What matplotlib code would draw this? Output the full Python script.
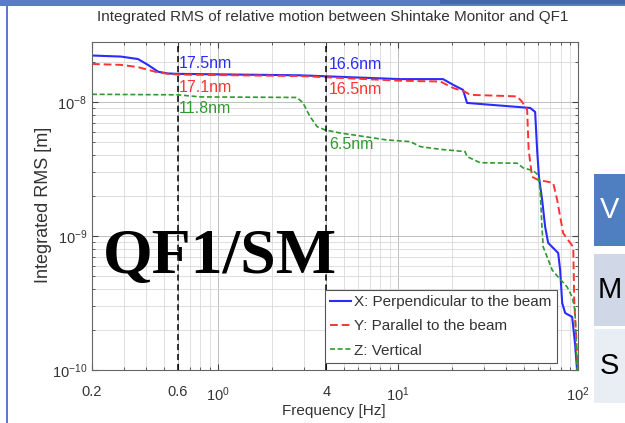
import matplotlib
matplotlib.use("Agg")
import matplotlib.pyplot as plt
from matplotlib.patches import Rectangle
from matplotlib.ticker import LogLocator, NullFormatter

# === Data (frequency [Hz], integrated RMS [m]) ===
freq_x = [0.2, 0.289, 0.360, 0.409, 0.466, 0.529, 0.6, 2.86, 10.3, 17.8, 20.3, 23.0, 24.2,
          54.3, 57.8, 59.3, 60.7, 63.2, 65.7, 68.3, 71.9, 77.6, 79.6, 81.7, 84.9, 92.8, 96.2, 98.8]
rms_x = [2.22e-8, 2.18e-8, 2.09e-8, 1.89e-8, 1.68e-8, 1.63e-8, 1.62e-8, 1.58e-8, 1.48e-8, 1.48e-8,
         1.34e-8, 1.23e-8, 9.83e-9, 9.02e-9, 8.42e-9, 4.38e-9, 2.76e-9, 1.86e-9, 1.17e-9, 8.87e-10,
         8.28e-10, 7.47e-10, 5.57e-10, 3.16e-10, 2.66e-10, 2.49e-10, 1.59e-10, 1.0e-10]

freq_y = [0.2, 0.289, 0.360, 0.448, 0.529, 0.6, 2.86, 10.3, 17.2, 20.3, 23.6, 25.2, 45.9, 49.0,
          52.2, 53.2, 55.6, 60.1, 72.8, 76.6, 82.7, 90.5, 94.1, 95.3, 96.5, 100]
rms_y = [1.92e-8, 1.89e-8, 1.82e-8, 1.68e-8, 1.62e-8, 1.60e-8, 1.56e-8, 1.44e-8, 1.42e-8, 1.27e-8,
         1.19e-8, 1.13e-8, 1.10e-8, 1.0e-8, 8.72e-9, 4.38e-9, 2.76e-9, 2.62e-9, 2.49e-9, 1.86e-9,
         1.05e-9, 8.87e-10, 8.28e-10, 3.33e-10, 2.36e-10, 1.0e-10]

freq_z = [0.2, 0.6, 0.8, 2.75, 2.97, 3.25, 3.56, 3.94, 4.77, 7.28, 8.71, 11.7, 13.3, 17.2, 23.6,
          24.2, 28.6, 45.9, 49.6, 56.4, 60.1, 61.6, 63.2, 64.1, 67.4, 71.9, 77.6, 87.1, 92.8, 96.2, 98.8]
rms_z = [1.14e-8, 1.13e-8, 1.09e-8, 1.08e-8, 9.83e-9, 7.77e-9, 6.54e-9, 6.18e-9, 5.87e-9, 5.39e-9,
         5.2e-9, 5.06e-9, 4.64e-9, 4.43e-9, 4.26e-9, 3.91e-9, 3.52e-9, 3.49e-9, 3.22e-9, 3.07e-9,
         2.85e-9, 2.2e-9, 1.11e-9, 8.28e-10, 6.97e-10, 5.57e-10, 4.94e-10, 4.16e-10, 3.51e-10,
         2.8e-10, 1.0e-10]

series_labels = ["X: Perpendicular to the beam", "Y: Parallel to the beam", "Z: Vertical"]

# markers at 0.6 Hz and 4 Hz with the values written next to them
cut_freqs = [0.6, 4]
note_text_06 = ["17.5nm", "17.1nm", "11.8nm"]
note_pos_06 = [1.95e-8, 1.29e-8, 9.0e-9]
note_text_4 = ["16.6nm", "16.5nm", "6.5nm"]
note_pos_4 = [1.89e-8, 1.23e-8, 4.78e-9]

xtick_vals = [0.2, 0.6, 1, 4, 10, 100]
xtick_labels = ["0.2", "0.6", r"$10^0$", "4", r"$10^1$", r"$10^2$"]
ytick_vals = [1e-10, 1e-9, 1e-8]
ytick_labels = [r"$10^{-10}$", r"$10^{-9}$", r"$10^{-8}$"]

table_letters = ["V", "M", "S"]

plt.rcParams["font.family"] = ["Liberation Sans", "DejaVu Sans"]
plt.rcParams["mathtext.fontset"] = "custom"
plt.rcParams["mathtext.rm"] = "Liberation Sans"
plt.rcParams["mathtext.it"] = "Liberation Sans:italic"

colors = ["#2b2bff", "#ff3333", "#2e9a2e"]

fig = plt.figure(figsize=(6.25, 4.23), dpi=100)
fig.patch.set_facecolor("white")
ax = fig.add_axes([92 / 625, 53 / 423, 486 / 625, 328 / 423])

# === Curves ===
ax.plot(freq_x, rms_x, color=colors[0], lw=1.5, label=series_labels[0])
ax.plot(freq_y, rms_y, color=colors[1], lw=1.4, dashes=(4, 2), label=series_labels[1])
ax.plot(freq_z, rms_z, color=colors[2], lw=1.2, dashes=(3, 1.6), label=series_labels[2])

for f in cut_freqs:
    ax.axvline(f, color="black", lw=1.1, dashes=(4, 2.5))

for txt, yv, c in zip(note_text_06, note_pos_06, colors):
    ax.text(0.61, yv, txt, color=c, fontsize=11.5, ha="left", va="center")
for txt, yv, c in zip(note_text_4, note_pos_4, colors):
    ax.text(4.15, yv, txt, color=c, fontsize=11.5, ha="left", va="center")

# === Axes styling ===
ax.set_xscale("log")
ax.set_yscale("log")
ax.set_xlim(0.2, 100)
ax.set_ylim(1e-10, 2.8e-8)
ax.set_xticks(xtick_vals)
ax.set_xticklabels(xtick_labels)
ax.xaxis.set_minor_locator(LogLocator(base=10, subs=range(2, 10)))
ax.xaxis.set_minor_formatter(NullFormatter())
ax.set_yticks(ytick_vals)
ax.set_yticklabels(ytick_labels)
ax.yaxis.set_minor_locator(LogLocator(base=10, subs=range(2, 10)))
ax.yaxis.set_minor_formatter(NullFormatter())
ax.tick_params(which="both", direction="in", top=True, right=True, colors="#444444",
               labelcolor="#333333")
ax.tick_params(which="major", length=4, labelsize=10.5)
ax.tick_params(axis="x", which="major", pad=11)
ax.tick_params(which="minor", length=2)
ax.grid(True, which="major", color="#bdbdbd", lw=0.7)
ax.grid(True, which="minor", color="#d9d9d9", lw=0.6)
for s in ax.spines.values():
    s.set_color("#666666")
    s.set_linewidth(0.8)

ax.set_xlabel("Frequency [Hz]", fontsize=11, color="#333333")
ax.xaxis.set_label_coords(0.498, -0.104)
ax.xaxis.label.set_va("top")
ax.set_ylabel("Integrated RMS [m]", fontsize=13, color="#333333")
ax.yaxis.set_label_coords(-0.082, 0.503)

leg = ax.legend(loc="lower right", bbox_to_anchor=(0.957, 0.021), borderaxespad=0,
                fontsize=11, handlelength=1.4, handletextpad=0.2, labelspacing=0.68,
                borderpad=0.35, fancybox=False, framealpha=1)
leg.get_frame().set_edgecolor("#555555")
leg.get_frame().set_linewidth(0.8)
for t in leg.get_texts():
    t.set_color("#333333")

fig.text(333 / 625, 1 - 17 / 423,
         "Integrated RMS of relative motion between Shintake Monitor and QF1",
         fontsize=11, color="#333333", ha="center", va="center")

# big slide label over the plot
fig.text(103 / 625, 1 - 273 / 423, "QF1/SM", family="Liberation Serif", weight="bold",
         fontsize=46, color="black", ha="left", va="baseline")

# === Slide decoration around the chart ===
fig.add_artist(Rectangle((0, 1 - 6 / 423), 1, 6 / 423, transform=fig.transFigure,
                         color="#5a7bc6", lw=0))
fig.add_artist(Rectangle((440 / 625, 1 - 4 / 423), 185 / 625, 4 / 423,
                         transform=fig.transFigure, color="#4468b0", lw=0))
fig.add_artist(Rectangle((6 / 625, 0), 2.4 / 625, 1 - 6 / 423, transform=fig.transFigure,
                         color="#5a7bc6", lw=0))

cell_tops = [174, 254, 329]
cell_bottoms = [246, 326, 403]
cell_colors = ["#4f7fc0", "#d0d8e8", "#e9edf4"]
letter_colors = ["white", "black", "black"]
for top, bot, cc, letter, lc in zip(cell_tops, cell_bottoms, cell_colors, table_letters, letter_colors):
    fig.add_artist(Rectangle((594 / 625, 1 - bot / 423), 31 / 625, (bot - top) / 423,
                             transform=fig.transFigure, color=cc, lw=0))
    fig.text(609.5 / 625, 1 - (top + bot) / 2 / 423, letter, fontsize=21, color=lc,
             ha="center", va="center")

fig.savefig("out.png", dpi=100)
